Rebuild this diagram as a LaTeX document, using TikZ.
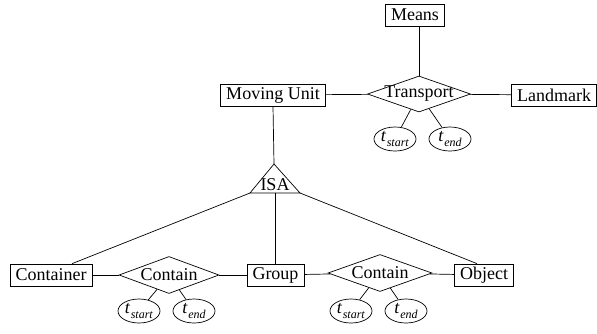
\documentclass[tikz,border=0pt]{standalone}
\usepackage{fontspec}
\setmainfont{Liberation Serif}
\usetikzlibrary{shapes.geometric,calc}
\newcommand{\tsub}[1]{\textit{t}\kern0.5pt\raisebox{-4.5pt}{\fontsize{12}{12}\selectfont\textit{#1}}}
\begin{document}
\begin{tikzpicture}[x=1pt,y=-1pt,line width=0.7pt,
  every node/.style={font=\fontsize{18}{20}\selectfont},
  ent/.style={draw,rectangle,minimum height=22pt,inner xsep=5.5pt,inner ysep=0pt},
  rel/.style={draw,diamond,inner sep=0pt,minimum width=#1,minimum height=37pt},
  attr/.style={draw,ellipse,inner sep=0pt,minimum width=42pt,minimum height=24pt}]
\useasboundingbox (0,0) rectangle (597,333);
% top part
\node[ent] (means) at (415,15) {Means};
\node[ent] (mu) at (273,95) {Moving Unit};
\node[rel=103pt,minimum height=36pt,label={[inner sep=0pt]center:Transport}] (tr) at (419,94) {};
\node[ent] (lm) at (554,95) {Landmark};
\node[attr] (ts1) at (395,139) {\tsub{start}};
\node[attr] (te1) at (450,139) {\tsub{end}};
\draw (tr.north) -- (tr.north |- means.south);
\draw (mu) -- (tr);
\draw (tr) -- (lm);
\draw (tr) -- (ts1);
\draw (tr) -- (te1);
% ISA
\coordinate (isaA) at (274,164);
\coordinate (isaL) at (250,193);
\coordinate (isaR) at (300,193);
\draw (isaA) -- (isaL) -- (isaR) -- cycle;
\node[inner sep=0pt] (isa) at (275,184.5) {ISA};
\draw (mu.south) -- (isaA);
% bottom part
\node[ent] (cont) at (51,275) {Container};
\node[rel=100pt,label={[inner sep=0pt]center:Contain}] (c1) at (169,275) {};
\node[ent] (grp) at (275.5,275) {Group};
\node[rel=104pt,label={[inner sep=0pt]center:Contain}] (c2) at (380,273) {};
\node[ent] (obj) at (484,275) {Object};
\node[attr] (ts2) at (139,311) {\tsub{start}};
\node[attr] (te2) at (194,311) {\tsub{end}};
\node[attr] (ts3) at (351,311) {\tsub{start}};
\node[attr] (te3) at (406,311) {\tsub{end}};
\draw (isaL) -- ([xshift=21pt]cont.north);
\draw (isaR) -- ([xshift=-7pt]obj.north);
\draw (grp.north) -- (grp.north |- isaL);
\draw (cont) -- (c1);
\draw (c1) -- (grp);
\draw (grp) -- (c2);
\draw (c2) -- (obj);
\draw (c1) -- (ts2);
\draw (c1) -- (te2);
\draw (c2) -- (ts3);
\draw (c2) -- (te3);
\end{tikzpicture}
\end{document}
